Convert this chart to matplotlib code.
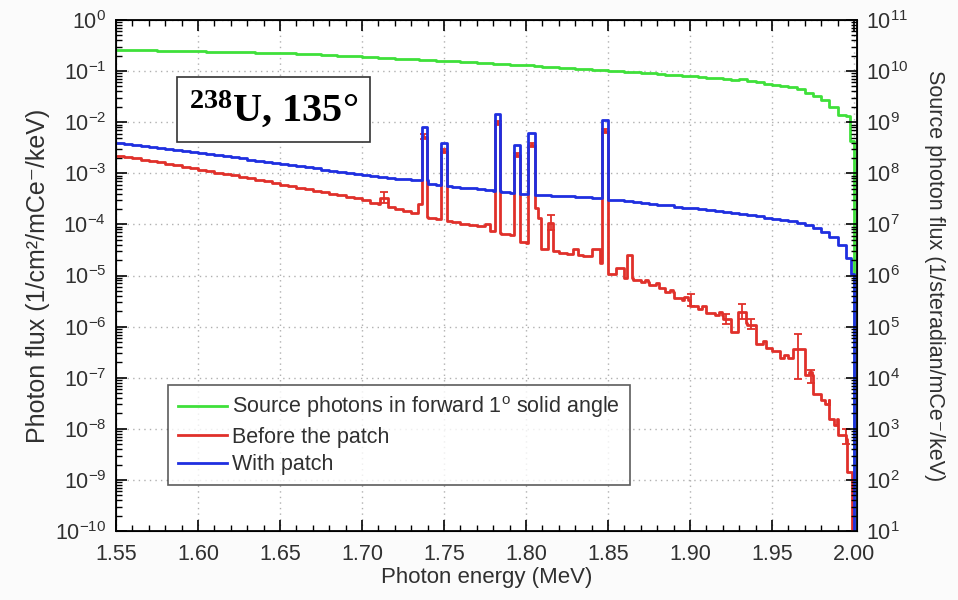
import numpy as np
import matplotlib
matplotlib.use("Agg")
import matplotlib.pyplot as plt
from matplotlib.ticker import LogLocator, MultipleLocator, NullFormatter, FormatStrFormatter

plt.rcParams['font.family'] = ['Liberation Sans', 'DejaVu Sans']

# ---------------- data (log10 values, 0.005 MeV bins from 1.55 to 2.00) ----------------
bin_width = 0.005
e_start = 1.55

# source photons, right-axis units: log10(1/steradian/mCe/keV)
green_log = [
    10.42, 10.415, 10.41, 10.41, 10.405, 10.40, 10.40, 10.395, 10.39, 10.39,
    10.385, 10.38, 10.38, 10.375, 10.37, 10.37, 10.365, 10.36, 10.36, 10.355,
    10.35, 10.345, 10.34, 10.33, 10.325, 10.32, 10.31, 10.305, 10.30, 10.29,
    10.285, 10.275, 10.265, 10.255, 10.245, 10.24, 10.23, 10.22, 10.21, 10.205,
    10.20, 10.19, 10.18, 10.17, 10.165, 10.155, 10.145, 10.135, 10.125, 10.115,
    10.11, 10.10, 10.09, 10.08, 10.07, 10.06, 10.05, 10.04, 10.03, 10.02,
    10.01, 10.00, 9.99, 9.98, 9.97, 9.96, 9.95, 9.93, 9.92, 9.91,
    9.90, 9.89, 9.87, 9.86, 9.85, 9.83, 9.84, 9.81, 9.78, 9.75,
    9.73, 9.71, 9.68, 9.64, 9.58, 9.52, 9.44, 9.30, 9.14, 9.12,
]
green_overrides = [(1.9975, 2.0, 8.63)]

# before the patch, left-axis units: log10(1/cm2/mCe/keV)
red_log = [
    -2.66, -2.68, -2.70, -2.73, -2.76, -2.78, -2.81, -2.84, -2.87, -2.90,
    -2.93, -2.96, -2.99, -3.01, -3.04, -3.07, -3.10, -3.13, -3.16, -3.19,
    -3.22, -3.25, -3.28, -3.31, -3.34, -3.37, -3.40, -3.43, -3.46, -3.49,
    -3.53, -3.58, -3.60, -3.66, -3.70, -3.74, -3.78, -3.85, -3.87, -3.89,
    -3.94, -3.96, -3.99, -4.01, -4.04, -4.12, -4.16, -4.18, -4.20, -4.34,
    -4.37, -4.49, -4.49, -4.52, -4.55, -4.58, -4.59, -4.62, -4.49, -4.75,
    -4.97, -4.86, -5.04, -5.08, -5.12, -5.18, -5.24, -5.33, -5.45, -5.47,
    -5.60, -5.66, -5.74, -5.78, -5.86, -6.11, -5.92, -5.96, -6.34, -6.42,
    -6.47, -6.62, -6.62, -6.43, -6.95, -7.31, -7.44, -7.80, -8.12, -8.85,
]
red_bumps = [
    (1.711, 1.716, -3.48), (1.734, 1.7364, -3.61), (1.775, 1.778, -3.99),
    (1.778, 1.7813, -4.12), (1.8055, 1.807, -3.68), (1.807, 1.809, -3.87),
    (1.8136, 1.8167, -3.97), (1.8287, 1.8317, -4.49), (1.8614, 1.8644, -4.59),
    (1.8725, 1.8745, -5.08), (1.879, 1.881, -5.14), (1.8875, 1.8895, -5.28),
    (1.8965, 1.8985, -5.42), (1.9075, 1.9095, -5.60), (1.9175, 1.9195, -5.72),
    (1.929, 1.934, -5.72), (1.9445, 1.9465, -6.28), (1.9575, 1.9595, -6.55),
    (1.963, 1.969, -6.43), (1.9725, 1.9745, -6.88), (1.9825, 1.9845, -7.52),
    (1.9875, 1.9895, -7.92), (1.995, 1.996, -8.20),
    (1.999, 2.0, -12.0),
]

# with patch
blue_log = [
    -2.40, -2.42, -2.44, -2.46, -2.48, -2.50, -2.52, -2.55, -2.57, -2.59,
    -2.61, -2.63, -2.65, -2.67, -2.69, -2.71, -2.73, -2.75, -2.77, -2.79,
    -2.81, -2.83, -2.86, -2.88, -2.90, -2.93, -2.95, -2.97, -2.99, -3.01,
    -3.04, -3.06, -3.08, -3.10, -3.11, -3.12, -3.13, -3.14, -3.21, -3.22,
    -3.24, -3.26, -3.28, -3.29, -3.31, -3.33, -3.35, -3.37, -3.38, -3.40,
    -3.41, -3.42, -3.43, -3.44, -3.45, -3.45, -3.46, -3.47, -3.48, -3.49,
    -3.52, -3.53, -3.55, -3.57, -3.58, -3.60, -3.62, -3.63, -3.65, -3.67,
    -3.68, -3.70, -3.72, -3.74, -3.76, -3.77, -3.79, -3.82, -3.84, -3.87,
    -3.89, -3.91, -3.94, -3.97, -4.01, -4.07, -4.14, -4.24, -4.40, -4.65,
]
blue_tail = [(1.998, 2.0, -4.97)]

# gamma lines: low edge, high edge, log10 with patch, log10 before patch
peak_lo = [1.7364, 1.7482, 1.7813, 1.7927, 1.8014, 1.8466]
peak_hi = [1.7394, 1.7516, 1.7841, 1.7963, 1.8055, 1.8502]
peak_blue = [-2.09, -2.41, -1.84, -2.44, -2.22, -1.96]
peak_red = [-2.28, -2.57, -2.02, -2.64, -2.45, -2.17]

# error bars on "before the patch": energy, value, lower, upper (log10)
err_e = [1.7135, 1.738, 1.750, 1.7827, 1.7945, 1.8035, 1.8484, 1.815,
         1.9008, 1.922, 1.9315, 1.937, 1.966, 1.974, 1.995]
err_v = [-3.48, -2.28, -2.57, -2.02, -2.64, -2.45, -2.17, -3.97,
         -5.47, -5.86, -5.72, -5.96, -6.43, -6.95, -8.12]
err_lo = [-3.58, -2.32, -2.61, -2.06, -2.68, -2.49, -2.21, -4.10,
          -5.60, -5.95, -5.86, -6.05, -7.02, -7.10, -8.30]
err_hi = [-3.37, -2.24, -2.53, -1.98, -2.60, -2.41, -2.13, -3.81,
          -5.36, -5.75, -5.56, -5.85, -6.14, -6.85, -8.00]

labels = ["Source photons in forward 1$\\mathdefault{^o}$ solid angle",
          "Before the patch", "With patch"]
colors = ["#3fe03a", "#e0302a", "#1f2fe0"]
TXT = "#303030"


def build_steps(cont, overrides, offset=0.0):
    n = len(cont)
    edges = [round(e_start + i * bin_width, 5) for i in range(n + 1)]
    pts = set(edges)
    for lo, hi, _ in overrides:
        pts.add(lo)
        pts.add(hi)
    pts = sorted(pts)
    vals = []
    for a, b in zip(pts[:-1], pts[1:]):
        mid = 0.5 * (a + b)
        k = min(int((mid - e_start) / bin_width), n - 1)
        v = cont[k]
        for lo, hi, ov in overrides:
            if lo <= mid < hi:
                v = ov
        vals.append(10.0 ** (v + offset))
    return np.array(pts), np.array(vals + [1e-13])


fig = plt.figure(figsize=(9.58, 6.0), dpi=100, facecolor="#fbfbfb")
ax = fig.add_axes([116 / 958, 69 / 600, 740.5 / 958, 511 / 600])
ax.set_facecolor("white")

gx, gy = build_steps(green_log, green_overrides, offset=-11.0)
peaks_b = list(zip(peak_lo, peak_hi, peak_blue))
peaks_r = list(zip(peak_lo, peak_hi, peak_red))
rx, ry = build_steps(red_log, red_bumps + peaks_r)
bx, by = build_steps(blue_log, peaks_b + blue_tail)

ax.plot(gx, gy, drawstyle="steps-post", color=colors[0], lw=2.0, label=labels[0], zorder=3)
ax.plot(rx, ry, drawstyle="steps-post", color=colors[1], lw=2.0, label=labels[1], zorder=4)
ev = 10.0 ** np.array(err_v)
yerr = [ev - 10.0 ** np.array(err_lo), 10.0 ** np.array(err_hi) - ev]
ax.errorbar(err_e, ev, yerr=yerr, fmt="none", ecolor=colors[1], elinewidth=1.3,
            capsize=3, capthick=1.3, zorder=4)
ax.plot(bx, by, drawstyle="steps-post", color=colors[2], lw=2.0, label=labels[2], zorder=5)

ax.set_xlim(1.55, 2.0015)
ax.set_yscale("log")
ax.set_ylim(1e-10, 1e0)
ax.xaxis.set_major_locator(MultipleLocator(0.05))
ax.xaxis.set_minor_locator(MultipleLocator(0.01))
ax.xaxis.set_major_formatter(FormatStrFormatter("%.2f"))
ax.yaxis.set_major_locator(LogLocator(base=10, numticks=20))
ax.yaxis.set_minor_locator(LogLocator(base=10, subs=np.arange(2, 10), numticks=20))
ax.yaxis.set_minor_formatter(NullFormatter())
ax.tick_params(axis="both", which="both", direction="in", top=True, right=False,
               labelsize=15.5, colors="black", labelcolor=TXT)
ax.tick_params(which="major", length=8, width=1.2)
ax.tick_params(which="minor", length=4, width=1.0)
ax.tick_params(axis="x", pad=9)
ax.tick_params(axis="y", pad=7)
ax.grid(True, which="major", linestyle=(0, (1, 3)), color="#b0b0b0", lw=1.0)
for s in ax.spines.values():
    s.set_linewidth(1.3)

ax.set_xlabel("Photon energy (MeV)", fontsize=16, color=TXT, labelpad=2)
ax.set_ylabel("Photon flux (1/cm²/mCe⁻/keV)", fontsize=18, color=TXT, labelpad=4)

ax2 = ax.twinx()
ax2.set_yscale("log")
ax2.set_ylim(1e1, 1e11)
ax2.yaxis.set_major_locator(LogLocator(base=10, numticks=20))
ax2.yaxis.set_minor_locator(LogLocator(base=10, subs=np.arange(2, 10), numticks=20))
ax2.yaxis.set_minor_formatter(NullFormatter())
ax2.tick_params(axis="y", which="both", direction="in", labelsize=15.5, labelcolor=TXT, pad=7)
ax2.tick_params(which="major", length=8, width=1.2)
ax2.tick_params(which="minor", length=4, width=1.0)
ax2.set_ylabel("Source photon flux (1/steradian/mCe⁻/keV)",
               fontsize=15.5, color=TXT, rotation=270, labelpad=26)

leg = ax.legend(loc="lower left", bbox_to_anchor=(0.07, 0.09), borderaxespad=0,
                fontsize=15.5, frameon=True, fancybox=False, handlelength=2.3,
                handletextpad=0.25, labelspacing=0.3, borderpad=0.45, handleheight=0.7)
leg.get_frame().set_edgecolor("#333333")
leg.get_frame().set_linewidth(1.2)
for t in leg.get_texts():
    t.set_color(TXT)

ax.text(0.213, 0.825, "$\\mathdefault{^{238}}$U, 135°", transform=ax.transAxes,
        family="Liberation Serif", weight="bold", fontsize=29, va="center", ha="center",
        zorder=6,
        bbox=dict(boxstyle="square,pad=0.3", facecolor="white", edgecolor="#333333", lw=1.2))

fig.savefig("out.png", dpi=100, facecolor=fig.get_facecolor())
